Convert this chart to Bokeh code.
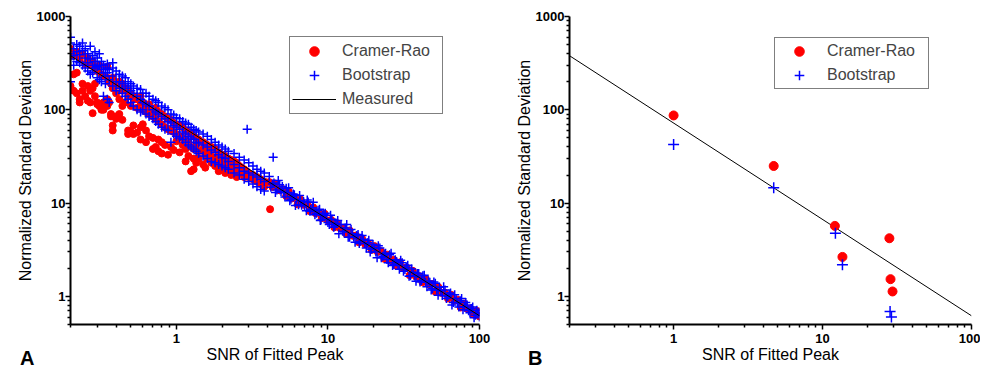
from bokeh.plotting import figure
from bokeh.layouts import row
from bokeh.models import FixedTicker, Legend, LegendItem, Range1d, Div
from bokeh.embed import file_html
from bokeh.resources import INLINE

# ---------------- data ----------------
cr_lo_snr = [0.20, 0.21, 0.22, 0.23, 0.24, 0.25, 0.26, 0.27, 0.28, 0.29, 0.30, 0.31, 0.32, 0.33,
             0.35, 0.36, 0.37, 0.38, 0.40, 0.42, 0.44, 0.46, 0.48, 0.50, 0.52, 0.55, 0.58, 0.60,
             0.63, 0.66, 0.70, 0.73, 0.76, 0.80, 0.84, 0.88, 0.92, 0.96, 1.00, 1.05, 1.10, 1.15,
             1.20, 1.25, 1.30, 1.35, 1.40, 1.50, 1.55, 1.60, 1.70, 1.80, 1.90, 2.00, 2.10, 2.20,
             2.30, 2.40, 2.50, 2.60, 2.70, 2.80, 2.90, 3.00, 3.20, 3.40, 3.60, 3.80]
cr_lo_sd = [[450, 180, 170], [380, 240, 160], [420, 250, 150], [350, 130, 120], [400, 190, 160],
            [310, 140], [360, 180, 125], [300, 160, 120], [330, 170, 92], [280, 190, 140],
            [260, 120, 115], [300, 110], [240, 105, 100], [230, 120, 100], [290, 220, 130, 110],
            [200, 120], [190, 90, 85], [220, 170, 60, 68], [180, 150, 85, 80], [200, 130, 90],
            [190, 160, 78, 110], [170, 120], [160, 140, 60, 55], [150, 110, 58], [140, 130, 68, 55],
            [130, 105, 57], [140, 120, 65, 48], [120, 100, 70], [110, 95, 60, 45], [115, 90, 52],
            [100, 85, 38, 50], [105, 80, 40], [95, 75, 36, 48], [90, 70, 34, 45], [85, 65, 42],
            [80, 62, 33], [78, 60, 40], [72, 58, 37], [70, 55, 46], [68, 52, 35], [65, 50, 42],
            [60, 48, 38, 28], [58, 45, 32], [56, 40, 22], [52, 38, 30, 23], [50, 42, 27],
            [48, 36, 30], [45, 38, 26], [43, 33, 24], [42, 30, 35], [40, 32, 27], [38, 30, 25],
            [35, 28, 22], [33, 30, 24], [32, 27, 21], [30, 25, 22], [29, 26, 20], [28, 24, 21],
            [27, 23, 19], [25, 22], [24, 21], [23, 20, 19], [22, 20], [21, 19], [20, 18], [19, 17],
            [18, 16], [17, 15]]
cr_hi_snr = [4.1, 4.15, 4.3, 4.5, 4.8, 5.0, 5.3, 5.5, 5.8, 6.0, 6.3, 6.6, 6.9, 7.3, 7.6, 8.0, 8.3,
             8.7, 9.1, 9.5, 10.0, 10.5, 11.0, 11.5, 12.0, 12.6, 13.2, 13.9, 14.6, 15.3, 16.0, 16.8,
             17.6, 18.5, 19.4, 20.3, 21.3, 22.4, 23.5, 24.7, 25.9, 27.2, 28.5, 29.9, 31.4, 33.0,
             34.6, 36.3, 38.1, 40.0, 42.0, 44.1, 46.3, 48.6, 51.0, 53.5, 56.2, 59.0, 61.9, 65.0,
             68.2, 71.6, 75.2, 79.0, 82.9, 87.0, 91.3, 95.8, 100]
cr_hi_sd = [16.8, 8.6, 14.9, 16.2, 13.7, 14.2, 11.9, 13.4, 11.2, 11.6, 9.7, 10.9, 9.6, 9.7, 8.2,
            9.0, 7.8, 7.9, 6.9, 7.7, 6.5, 6.6, 5.5, 6.1, 5.4, 5.4, 4.7, 5.1, 4.46, 4.5, 3.8, 4.15,
            3.63, 3.66, 3.15, 3.46, 3.0, 3.04, 2.53, 2.8, 2.44, 2.47, 2.12, 2.32, 2.02, 2.04, 1.69,
            1.88, 1.63, 1.65, 1.42, 1.55, 1.35, 1.36, 1.13, 1.26, 1.09, 1.1, 0.95, 1.04, 0.9, 0.92,
            0.76, 0.84, 0.74, 0.74, 0.64, 0.7, 0.61]
bs_lo_snr = [0.20, 0.21, 0.22, 0.23, 0.24, 0.25, 0.26, 0.27, 0.28, 0.29, 0.30, 0.31, 0.32, 0.33,
             0.34, 0.35, 0.36, 0.38, 0.40, 0.42, 0.44, 0.46, 0.48, 0.50, 0.52, 0.55, 0.58, 0.60,
             0.63, 0.66, 0.70, 0.73, 0.76, 0.80, 0.84, 0.88, 0.92, 0.96, 1.00, 1.05, 1.10, 1.15,
             1.20, 1.25, 1.30, 1.35, 1.40, 1.50, 1.60, 1.70, 1.80, 1.90, 2.00, 2.10, 2.20, 2.40,
             2.60, 2.80, 2.93, 3.00, 3.20, 3.40, 3.60, 3.80]
bs_lo_sd = [[600, 520, 400, 350, 200], [450, 380, 300], [500, 420, 330], [480, 390, 320],
            [520, 430, 300], [450, 360, 280], [400, 320, 260], [480, 350, 240], [380, 300, 250],
            [420, 330, 280], [360, 290, 220], [400, 300, 210], [330, 270, 200], [300, 250, 140],
            [280, 230, 190], [310, 250, 130], [270, 210, 120], [320, 280, 230, 180],
            [260, 200, 160], [240, 200, 170], [230, 190, 150], [220, 180, 140], [200, 170, 130],
            [190, 160, 120], [180, 150, 110], [170, 140, 100], [165, 130, 95], [150, 120, 100],
            [150, 115, 90], [140, 110, 85], [130, 100, 80], [125, 95, 75], [120, 90, 70],
            [110, 85, 65], [105, 80, 62], [100, 75, 60], [90, 72, 45], [88, 68, 55],
            [82, 65, 52], [80, 62, 50], [75, 58, 48], [72, 55, 45], [70, 52, 42], [65, 50, 40],
            [62, 48, 38], [60, 45, 36], [58, 44, 34], [55, 42, 32], [52, 40, 30], [48, 37, 28],
            [45, 35, 27], [42, 33, 26], [40, 31, 25], [38, 30, 24], [36, 28, 23], [34, 26, 21],
            [31, 24, 20], [29, 22, 18], [62], [27, 21, 17], [25, 20, 16], [23, 19, 15],
            [22, 18, 14], [21, 17, 13.5]]
bs_hi_snr = [4.1, 4.2, 4.3, 4.35, 4.4, 4.5, 4.6, 4.7, 4.8, 4.9, 5.0, 5.1, 5.2, 5.3, 5.4, 5.5, 5.6,
             5.7, 5.8, 5.9, 6.0, 6.1, 6.2, 6.4, 6.5, 6.6, 6.7, 6.9, 7.0, 7.2, 7.3, 7.4, 7.6, 7.7,
             7.9, 8.0, 8.2, 8.4, 8.6, 8.8, 8.9, 9.0, 9.2, 9.4, 9.6, 9.8, 10.0, 10.2, 10.4, 10.6,
             10.9, 11.1, 11.3, 11.6, 11.8, 12.2, 12.5, 12.8, 13.0, 13.3, 13.6, 13.9, 14.2, 14.5,
             14.8, 15.1, 15.5, 15.8, 16.1, 16.4, 16.8, 17.1, 17.5, 17.9, 18.3, 18.6, 19.0, 19.4,
             19.8, 20.2, 20.7, 21.1, 21.5, 22.0, 22.5, 23.0, 23.5, 24.0, 24.5, 25.0, 25.5, 26.1,
             26.7, 27.2, 27.8, 28.4, 29.0, 29.6, 30.2, 30.9, 31.5, 32.2, 32.9, 33.6, 34.3, 35.0,
             35.7, 36.5, 37.3, 38.1, 38.9, 39.7, 40.5, 41.4, 42.3, 43.2, 44.1, 45.0, 46.0, 47.0,
             48.0, 49.0, 50.0, 51.1, 52.2, 53.3, 54.4, 55.6, 56.8, 58.0, 59.2, 60.5, 61.8, 63.1,
             64.4, 65.8, 67.2, 68.6, 70.1, 71.6, 73.1, 74.6, 76.2, 77.8, 79.5, 81.2, 82.9, 84.7,
             86.5, 88.3, 90.2, 92.1, 94.0, 96.0, 98.0, 100, 100]
bs_hi_sd = [19.3, 14.8, 16.0, 31, 16.4, 13.0, 13.8, 17.5, 15.7, 13.3, 15.1, 12.9, 11.6, 14.4,
            13.0, 14.6, 10.6, 11.0, 11.8, 12.5, 12.3, 9.4, 11.0, 9.6, 12.1, 10.6, 9.5, 10.4, 9.3,
            8.3, 10.8, 10.3, 8.2, 8.6, 8.9, 10.2, 7.5, 7.8, 8.4, 8.6, 6.5, 6.6, 7.4, 7.6, 7.8, 6.7,
            6.2, 5.9, 7.4, 6.7, 5.5, 5.7, 6.1, 6.5, 4.7, 5.9, 5.0, 4.9, 5.4, 5.9, 4.3, 4.3, 5.2,
            4.7, 4.3, 3.8, 4.5, 4.6, 3.7, 3.9, 4.5, 4.1, 3.7, 3.3, 3.75, 4.0, 3.0, 3.2, 3.6, 3.3,
            3.0, 2.6, 3.5, 3.3, 2.6, 2.7, 2.84, 2.9, 2.48, 2.3, 2.8, 2.9, 2.15, 2.2, 2.47, 2.35,
            2.16, 1.95, 2.44, 2.3, 1.86, 1.94, 2.06, 2.16, 1.64, 1.67, 1.97, 1.82, 1.64, 1.45,
            1.76, 1.76, 1.43, 1.48, 1.67, 1.69, 1.42, 1.27, 1.46, 1.42, 1.17, 1.21, 1.43, 1.38,
            1.17, 1.03, 1.25, 1.15, 1.02, 1.27, 1.17, 0.95, 1.0, 1.06, 1.09, 0.81, 0.86, 1.04, 0.95,
            0.85, 0.77, 0.9, 0.95, 0.72, 0.77, 0.86, 0.81, 0.70, 0.67, 0.74, 0.77, 0.59, 0.63,
            0.71, 0.67, 0.6, 0.68]

measured_snr = [0.2, 100]
measured_sd = [380, 0.62]

b_cr_snr = [1.0, 4.7, 12.1, 13.6, 28.1, 28.6, 29.5]
b_cr_sd = [87, 25, 5.7, 2.65, 4.2, 1.53, 1.13]
b_bs_snr = [1.0, 4.7, 12.2, 13.6, 28.4, 29.0]
b_bs_sd = [42.5, 14.6, 4.75, 2.18, 0.69, 0.6]

x_major = [1, 10, 100]
x_minor = [0.2, 0.3, 0.4, 0.5, 0.6, 0.7, 0.8, 0.9, 2, 3, 4, 5, 6, 7, 8, 9,
           20, 30, 40, 50, 60, 70, 80, 90]
y_major = [1, 10, 100, 1000]
y_minor = [0.5, 0.6, 0.7, 0.8, 0.9, 2, 3, 4, 5, 6, 7, 8, 9, 20, 30, 40, 50, 60, 70, 80, 90,
           200, 300, 400, 500, 600, 700, 800, 900]
x_label = "SNR of Fitted Peak"
y_label = "Normalized Standard Deviation"
panel_letters = ["A", "B"]

cr_x, cr_y = [], []
for xv, ys in zip(cr_lo_snr, cr_lo_sd):
    for yv in ys:
        cr_x.append(xv); cr_y.append(yv)
cr_x += cr_hi_snr; cr_y += cr_hi_sd
bs_x, bs_y = [], []
for xv, ys in zip(bs_lo_snr, bs_lo_sd):
    for yv in ys:
        bs_x.append(xv); bs_y.append(yv)
bs_x += bs_hi_snr; bs_y += bs_hi_sd

FONT = "Liberation Sans"
RED = "#FF0000"
BLUE = "#0000FF"
H = 368


def make_fig(width, border_left, border_right):
    p = figure(width=width, height=H, x_axis_type="log", y_axis_type="log",
               x_range=Range1d(0.2, 100), y_range=Range1d(0.5, 1000),
               output_backend="svg", toolbar_location=None,
               min_border_left=border_left, min_border_right=border_right,
               min_border_top=16, min_border_bottom=44)
    p.outline_line_color = None
    p.grid.visible = False
    p.background_fill_color = "white"
    for ax, major, minor, lab in ((p.xaxis[0], x_major, x_minor, x_label),
                                  (p.yaxis[0], y_major, y_minor, y_label)):
        ax.ticker = FixedTicker(ticks=major, minor_ticks=minor)
        ax.axis_label = lab
        ax.axis_label_text_font = FONT
        ax.axis_label_text_font_size = "16px"
        ax.axis_label_text_font_style = "normal"
        ax.axis_label_text_color = "black"
        ax.major_label_text_font = FONT
        ax.major_label_text_font_size = "13px"
        ax.major_label_text_font_style = "bold"
        ax.major_label_text_color = "black"
        ax.axis_line_width = 2
        ax.axis_line_color = "black"
        ax.major_tick_line_width = 1.5
        ax.minor_tick_line_width = 1.5
        ax.major_tick_in = 0
        ax.major_tick_out = 5
        ax.minor_tick_in = 0
        ax.minor_tick_out = 3
    p.xaxis[0].major_label_standoff = 4
    p.xaxis[0].axis_label_standoff = 0
    p.yaxis[0].major_label_standoff = 0
    p.yaxis[0].axis_label_standoff = 0
    p.yaxis[0].major_label_overrides = {1: "1", 10: "10", 100: "100", 1000: "1000"}
    p.xaxis[0].major_label_overrides = {1: "1", 10: "10", 100: "100"}
    return p


def letter_div(txt, left):
    return Div(text=txt, width=0, height=0,
               styles={"position": "absolute", "left": f"{left}px", "top": "343px",
                       "font-family": FONT, "font-size": "20px", "font-weight": "bold",
                       "line-height": "20px", "color": "black", "overflow": "visible"})


# ---------------- Panel A ----------------
pa = make_fig(512, 70, 33)
r_cr = pa.scatter(cr_x, cr_y, marker="circle", size=7, fill_color=RED, line_color=RED)
r_bs = pa.scatter(bs_x, bs_y, marker="cross", size=9, line_color=BLUE, line_width=1.5)
r_ln = pa.line(measured_snr, measured_sd, line_color="black", line_width=1)
leg_a = Legend(items=[LegendItem(label="Cramer-Rao", renderers=[r_cr]),
                      LegendItem(label="Bootstrap", renderers=[r_bs]),
                      LegendItem(label="Measured", renderers=[r_ln])],
               location=(219, 210), orientation="vertical",
               label_text_font=FONT, label_text_font_size="16px",
               glyph_width=44, glyph_height=24, label_height=24, label_width=98,
               label_standoff=6, padding=2, spacing=0, margin=0,
               border_line_color="black", border_line_width=1,
               background_fill_color="white", background_fill_alpha=1)
pa.add_layout(leg_a)

# ---------------- Panel B ----------------
pb = make_fig(468, 54, 9)
pb.line(measured_snr, measured_sd, line_color="black", line_width=1)
rb_cr = pb.scatter(b_cr_snr, b_cr_sd, marker="circle", size=9, fill_color=RED, line_color=RED)
rb_bs = pb.scatter(b_bs_snr, b_bs_sd, marker="cross", size=11, line_color=BLUE, line_width=1.5)
leg_b = Legend(items=[LegendItem(label="Cramer-Rao", renderers=[rb_cr]),
                      LegendItem(label="Bootstrap", renderers=[rb_bs])],
               location=(205, 235), orientation="vertical",
               label_text_font=FONT, label_text_font_size="16px",
               glyph_width=46, glyph_height=24, label_height=24, label_width=100,
               label_standoff=5, padding=1, spacing=0, margin=0,
               border_line_color="black", border_line_width=1,
               background_fill_color="white", background_fill_alpha=1)
pb.add_layout(leg_b)

layout = row(pa, pb, letter_div(panel_letters[0], 15), letter_div(panel_letters[1], 523),
             spacing=0)
open("out.html", "w").write(file_html(layout, INLINE))
